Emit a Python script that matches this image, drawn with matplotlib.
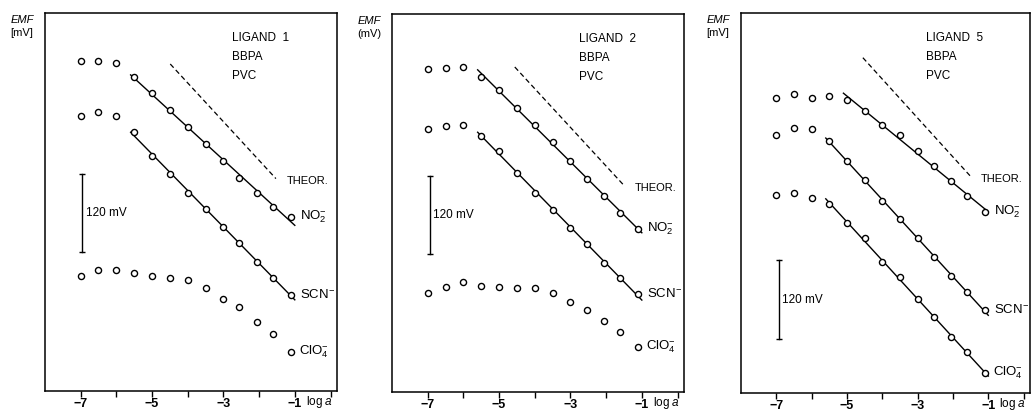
import numpy as np
import matplotlib
matplotlib.use("Agg")
import matplotlib.pyplot as plt

# log a values (activities) used for all three membranes
LOG_A = [-7, -6.5, -6, -5.5, -5, -4.5, -4, -3.5, -3, -2.55, -2.05, -1.6, -1.1]

# EMF readings in mV (arbitrary zero), ligand 1
L1_NO2 = [504, 505, 502, 480, 455, 429, 403, 378, 351, 326, 303, 282, 266]
L1_SCN = [421, 426, 421, 396, 360, 332, 303, 279, 251, 226, 197, 173, 147]
L1_CLO4 = [176, 185, 185, 181, 176, 173, 169, 158, 140, 129, 105, 87, 60]

# ligand 2
L2_NO2 = [494, 496, 497, 482, 462, 434, 408, 382, 354, 326, 299, 274, 249]
L2_SCN = [402, 407, 409, 392, 369, 335, 304, 279, 251, 226, 198, 174, 150]
L2_CLO4 = [151, 160, 168, 162, 161, 159, 159, 151, 138, 126, 109, 92, 69]

# ligand 5
L5_NO2 = [449, 455, 449, 452, 446, 429, 407, 392, 368, 346, 322, 300, 276]
L5_SCN = [392, 403, 402, 383, 353, 324, 292, 265, 236, 207, 178, 153, 127]
L5_CLO4 = [301, 304, 296, 287, 259, 235, 200, 176, 143, 116, 85, 62, 31]

LIGANDS = ["1", "2", "5"]
ION_LABELS = ["NO$_2^{-}$", "SCN$^{-}$", "ClO$_4^{-}$"]

# index of first point of the linear (Nernstian) range, None = no fit line
FIT_START = [[3, 3, None], [3, 3, None], [4, 3, 3]]

# theoretical 59.2 mV/decade line: start log a, end log a, start EMF
THEOR_X = [[-4.49, -1.53], [-4.56, -1.51], [-4.55, -1.51]]
THEOR_Y0 = [500, 497, 510]
NERNST = 59.2

# 120 mV scale bar: log a position and lower end
BAR_X = [-6.95, -6.93, -6.92]
BAR_Y0 = [212, 211, 82]

EMF_UNIT = ["[mV]", "(mV)", "[mV]"]

AX_RECTS = [
    [0.0436, 0.0487, 0.2832, 0.9197],
    [0.3802, 0.0462, 0.2832, 0.9197],
    [0.7187, 0.0438, 0.2803, 0.9246],
]

plt.rcParams['font.family'] = ['Liberation Sans', 'DejaVu Sans']
plt.rcParams['mathtext.fontset'] = 'custom'
plt.rcParams['mathtext.rm'] = 'Liberation Sans'
plt.rcParams['mathtext.it'] = 'Liberation Sans:italic'


def draw_panel(ax, k, series):
    ax.set_xlim(-8, 0.18)
    ax.set_ylim(0, 578)

    x = np.array(LOG_A)
    for j, y in enumerate(series):
        y = np.array(y, dtype=float)
        ax.plot(x, y, 'o', mfc='white', mec='black', ms=4.4, mew=1.0, zorder=3)
        start = FIT_START[k][j]
        if start is not None:
            p = np.polyfit(x[start:], y[start:], 1)
            xs = np.array([x[start] - 0.1, x[-1] + 0.1])
            ax.plot(xs, np.polyval(p, xs), '-', color='black', lw=1.0, zorder=2)
        dx = 0.25 if j < 2 else 0.22
        ax.text(x[-1] + dx, y[-1], ION_LABELS[j], fontsize=9.5,
                ha='left', va='center')

    # theoretical slope
    tx = np.array(THEOR_X[k])
    ty = THEOR_Y0[k] - NERNST * (tx - tx[0])
    ax.plot(tx, ty, '--', color='black', lw=0.9, dashes=(4, 2.5))
    ax.text(tx[1] + 0.3, ty[1] - 4, "THEOR.", fontsize=8, ha='left', va='center')

    # scale bar
    bx = BAR_X[k]
    by = [BAR_Y0[k], BAR_Y0[k] + 120]
    ax.plot([bx, bx], by, '-', color='black', lw=1.0)
    ax.plot([bx, bx], by, '_', color='black', ms=5, mew=1.0)
    ax.text(bx + 0.09, BAR_Y0[k] + 60, "120 mV", fontsize=8.5, ha='left', va='center')

    # membrane description
    ax.text(-2.76, 540, "LIGAND  " + LIGANDS[k], fontsize=8.5, ha='left', va='center')
    ax.text(-2.76, 511, "BBPA", fontsize=8.5, ha='left', va='center')
    ax.text(-2.76, 482, "PVC", fontsize=8.5, ha='left', va='center')

    # axes styling
    ax.set_yticks([])
    ax.set_xticks(range(-7, 1))
    ax.set_xticklabels(["\u22127", "", "\u22125", "", "\u22123", "", "\u22121", ""],
                       fontsize=9, fontweight='bold')
    ax.tick_params(axis='x', direction='out', length=4, width=1.0, pad=1.0)
    for s in ax.spines.values():
        s.set_linewidth(1.1)

    ax.text(0.94, -0.029, "log $a$", transform=ax.transAxes, fontsize=8.5,
            ha='center', va='center')
    ax.text(-0.079, 0.982, "EMF", transform=ax.transAxes, fontsize=8,
            style='italic', ha='center', va='center')
    ax.text(-0.079, 0.947, EMF_UNIT[k], transform=ax.transAxes, fontsize=8,
            ha='center', va='center')


def main():
    fig = plt.figure(figsize=(10.31, 4.11), dpi=100)
    data = [
        [L1_NO2, L1_SCN, L1_CLO4],
        [L2_NO2, L2_SCN, L2_CLO4],
        [L5_NO2, L5_SCN, L5_CLO4],
    ]
    for k in range(3):
        ax = fig.add_axes(AX_RECTS[k])
        draw_panel(ax, k, data[k])
    fig.savefig("out.png", dpi=100)
    plt.close(fig)


if __name__ == "__main__":
    main()
